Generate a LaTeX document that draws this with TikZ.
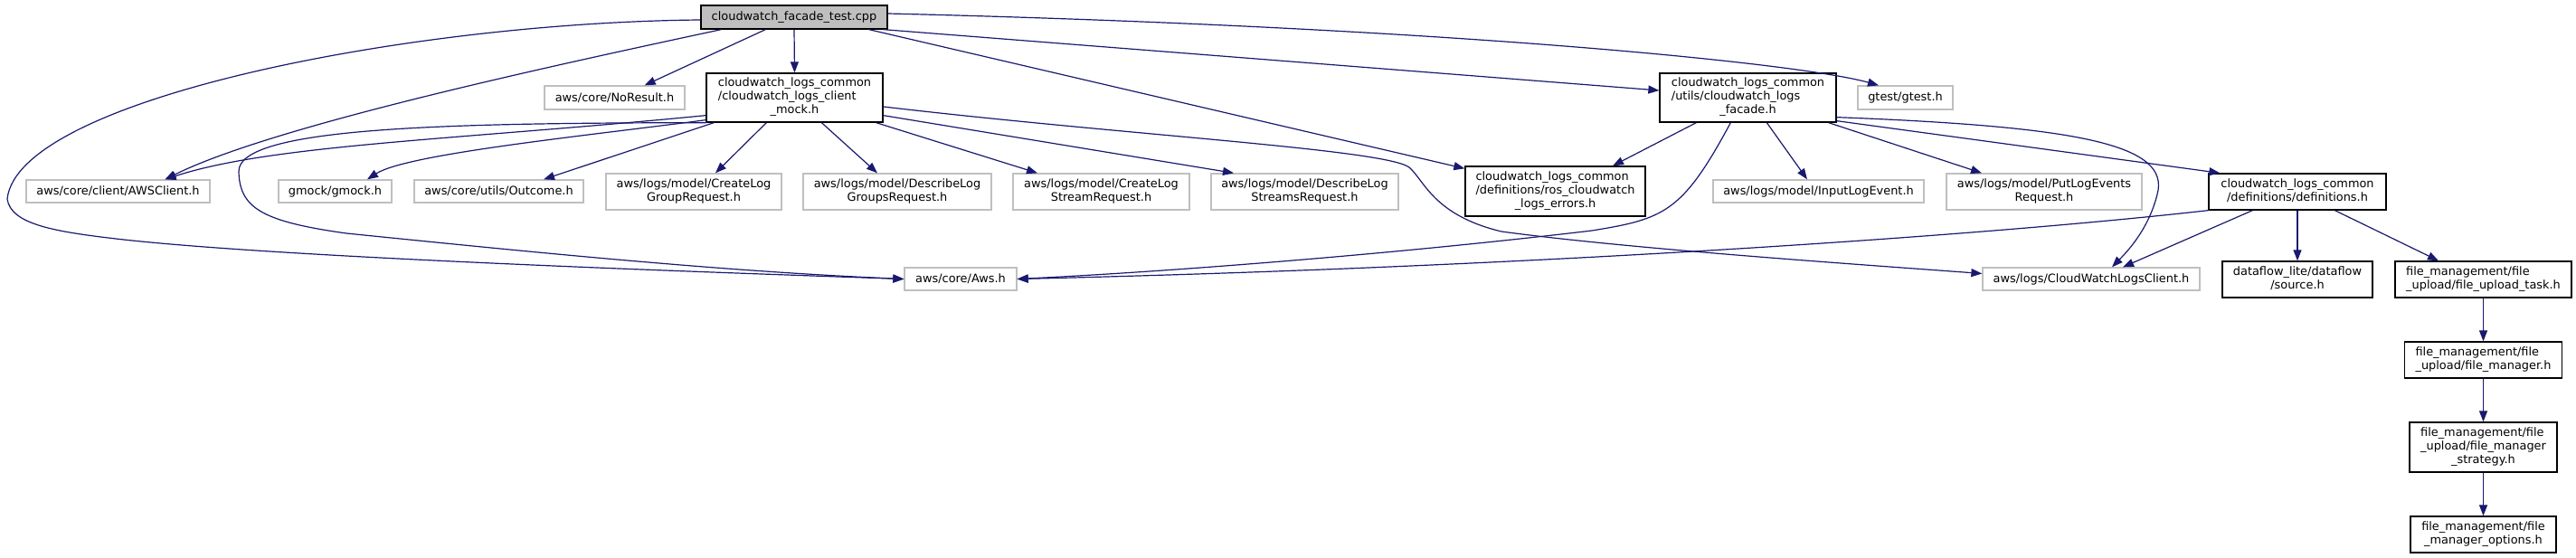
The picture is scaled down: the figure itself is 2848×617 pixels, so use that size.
\documentclass[tikz,border=0pt]{standalone}
\usepackage{fontspec}
\setmainfont{DejaVu Sans}
\usetikzlibrary{arrows.meta,calc}
\definecolor{edgeblue}{HTML}{191970}
\definecolor{extgray}{HTML}{BFBFBF}
\newcommand{\mytwo}[2]{\begin{tabular}{@{}l@{}}#1\\\multicolumn{1}{@{}c@{}}{#2}\end{tabular}}
\newcommand{\mythree}[3]{\begin{tabular}{@{}l@{}}#1\\#2\\\multicolumn{1}{@{}c@{}}{#3}\end{tabular}}
\begin{document}
\begin{tikzpicture}[x=1pt,y=-1pt,
  font=\fontsize{12.9}{15}\selectfont,
  box/.style={rectangle,inner sep=0pt,line width=1.3pt,align=center},
  ext/.style={box,draw=extgray},
  doc/.style={box,draw=black},
  edge/.style={draw=edgeblue,line width=1.2pt,-{Triangle[length=12pt,width=9pt]}}]
\path[fill=white,use as bounding box] (0,0) rectangle (2848,617);

% nodes
\node[doc,fill=extgray,minimum width=206pt,minimum height=26pt] (T) at (878,19) {cloudwatch\_facade\_test.cpp};
\node[ext,minimum width=155pt,minimum height=26pt] (noresult) at (679.5,108) {aws/core/NoResult.h};
\node[doc,minimum width=195pt,minimum height=54pt] (mock) at (878.5,108) {\mythree{cloudwatch\_logs\_common}{/cloudwatch\_logs\_client}{\_mock.h}};
\node[doc,minimum width=195pt,minimum height=54pt] (facade) at (1932.5,108) {\mythree{cloudwatch\_logs\_common}{/utils/cloudwatch\_logs}{\_facade.h}};
\node[ext,minimum width=105pt,minimum height=26pt] (gtest) at (2106.5,108) {gtest/gtest.h};
\node[ext,minimum width=203pt,minimum height=25pt] (awsclient) at (130.5,211.5) {aws/core/client/AWSClient.h};
\node[ext,minimum width=125pt,minimum height=25pt] (gmock) at (370.5,211.5) {gmock/gmock.h};
\node[ext,minimum width=187pt,minimum height=25pt] (outcome) at (551.5,211.5) {aws/core/utils/Outcome.h};
\node[ext,minimum width=194pt,minimum height=40pt] (clg) at (767,212) {\mytwo{aws/logs/model/CreateLog}{GroupRequest.h}};
\node[ext,minimum width=208pt,minimum height=40pt] (dlg) at (992,212) {\mytwo{aws/logs/model/DescribeLog}{GroupsRequest.h}};
\node[ext,minimum width=195pt,minimum height=40pt] (cls) at (1217.5,212) {\mytwo{aws/logs/model/CreateLog}{StreamRequest.h}};
\node[ext,minimum width=207pt,minimum height=40pt] (dls) at (1442.5,212) {\mytwo{aws/logs/model/DescribeLog}{StreamsRequest.h}};
\node[doc,minimum width=199pt,minimum height=55pt] (ros) at (1719.5,211.5) {\mythree{cloudwatch\_logs\_common}{/definitions/ros\_cloudwatch}{\_logs\_errors.h}};
\node[ext,minimum width=233pt,minimum height=25pt] (input) at (2010.5,211.5) {aws/logs/model/InputLogEvent.h};
\node[ext,minimum width=216pt,minimum height=40pt] (put) at (2260,212) {\mytwo{aws/logs/model/PutLogEvents}{Request.h}};
\node[doc,minimum width=196pt,minimum height=40pt] (defs) at (2540,212) {\mytwo{cloudwatch\_logs\_common}{/definitions/definitions.h}};
\node[ext,minimum width=124pt,minimum height=25pt] (aws) at (1062,308.5) {aws/core/Aws.h};
\node[ext,minimum width=240pt,minimum height=25pt] (cwlc) at (2312,308.5) {aws/logs/CloudWatchLogsClient.h};
\node[doc,minimum width=166pt,minimum height=40pt] (dataflow) at (2540,309) {\mytwo{dataflow\_lite/dataflow}{/source.h}};
\node[doc,minimum width=195pt,minimum height=40pt] (upt) at (2745.5,309) {\mytwo{file\_management/file}{\_upload/file\_upload\_task.h}};
\node[doc,minimum width=174pt,minimum height=40pt] (fm) at (2745.5,398) {\mytwo{file\_management/file}{\_upload/file\_manager.h}};
\node[doc,minimum width=163pt,minimum height=55pt] (strat) at (2745.5,494.5) {\mythree{file\_management/file}{\_upload/file\_manager}{\_strategy.h}};
\node[doc,minimum width=161pt,minimum height=40pt] (opts) at (2745.5,591) {\mytwo{file\_management/file}{\_manager\_options.h}};

% edges from the test file
\draw[edge] ($(T.west)+(0,3)$) .. controls (450,25) and (20,110) .. (8,220)
  .. controls (12,248) and (60,256) .. (128,264)
  .. controls (300,284) and (750,300) .. (aws.west);
\draw[edge] ($(T.south west)+(23,0)$) .. controls (600,75) and (300,140) .. ($(awsclient.north)+(52,0)$);
\draw[edge] ($(T.south west)+(72,0)$) -- ($(noresult.north east)+(-45,0)$);
\draw[edge] (T.south) -- (mock.north);
\draw[edge] ($(T.south east)+(-21,0)$) -- ($(ros.north west)+(0,3)$);
\draw[edge] ($(T.south east)+(-5,0)$) -- ($(facade.west)+(0,-8)$);
\draw[edge] ($(T.east)+(0,-4)$) .. controls (1600,30) and (1990,70) .. ($(gtest.north)+(-29.5,0)$);

% edges from the mock
\draw[edge] ($(mock.south west)+(2,0)$) .. controls (500,136) and (262,140) .. (264,190)
  .. controls (265,230) and (290,245) .. (383,258)
  .. controls (600,280) and (800,300) .. (aws.west);
\draw[edge] ($(mock.south west)+(0,-8)$) .. controls (500,155) and (300,160) .. ($(awsclient.north)+(52,0)$);
\draw[edge] ($(mock.south west)+(0,-3)$) .. controls (650,150) and (450,170) .. ($(gmock.north)+(35.5,0)$);
\draw[edge] ($(mock.south west)+(9,0)$) -- ($(outcome.north)+(49.5,0)$);
\draw[edge] ($(mock.south west)+(67,0)$) -- ($(clg.north)+(24,0)$);
\draw[edge] ($(mock.south west)+(128,0)$) -- ($(dlg.north)+(-22,0)$);
\draw[edge] ($(mock.south east)+(-8,0)$) -- ($(cls.north)+(-70.5,0)$);
\draw[edge] ($(mock.south east)+(0,-8)$) -- ($(dls.north)+(-78.5,0)$);
\draw[edge] ($(mock.east)+(0,10)$) .. controls (1250,150) and (1530,165) .. (1558,185)
  .. controls (1575,200) and (1585,238) .. (1660,256)
  .. controls (1800,275) and (2050,292) .. ($(cwlc.west)+(0,-6)$);

% edges from the facade
\draw[edge] ($(facade.south west)+(41,0)$) -- ($(ros.north)+(63.5,0)$);
\draw[edge] ($(facade.south west)+(79,0)$) .. controls (1860,235) and (1840,242) .. (1760,255)
  .. controls (1550,280) and (1300,300) .. (aws.east);
\draw[edge] ($(facade.south west)+(119,0)$) -- ($(input.north)+(-12.5,0)$);
\draw[edge] ($(facade.south east)+(-9,0)$) -- ($(put.north)+(-69,0)$);
\draw[edge] ($(facade.south east)+(0,-2)$) -- ($(defs.north west)+(13,0)$);
\draw[edge] ($(facade.south east)+(0,-6)$) .. controls (2300,140) and (2400,160) .. (2385,215)
  .. controls (2375,255) and (2350,280) .. ($(cwlc.north)+(23,0)$);

% edges from definitions
\draw[edge] (defs.south west) .. controls (2200,260) and (1700,295) .. (aws.east);
\draw[edge] ($(defs.south west)+(49,0)$) -- ($(cwlc.north)+(35,0)$);
\draw[edge] (defs.south) -- (dataflow.north);
\draw[edge] ($(defs.south west)+(140,0)$) -- ($(upt.north)+(-49.5,0)$);

% file management chain
\draw[edge] (upt.south) -- (fm.north);
\draw[edge] (fm.south) -- (strat.north);
\draw[edge] (strat.south) -- (opts.north);
\end{tikzpicture}
\end{document}
